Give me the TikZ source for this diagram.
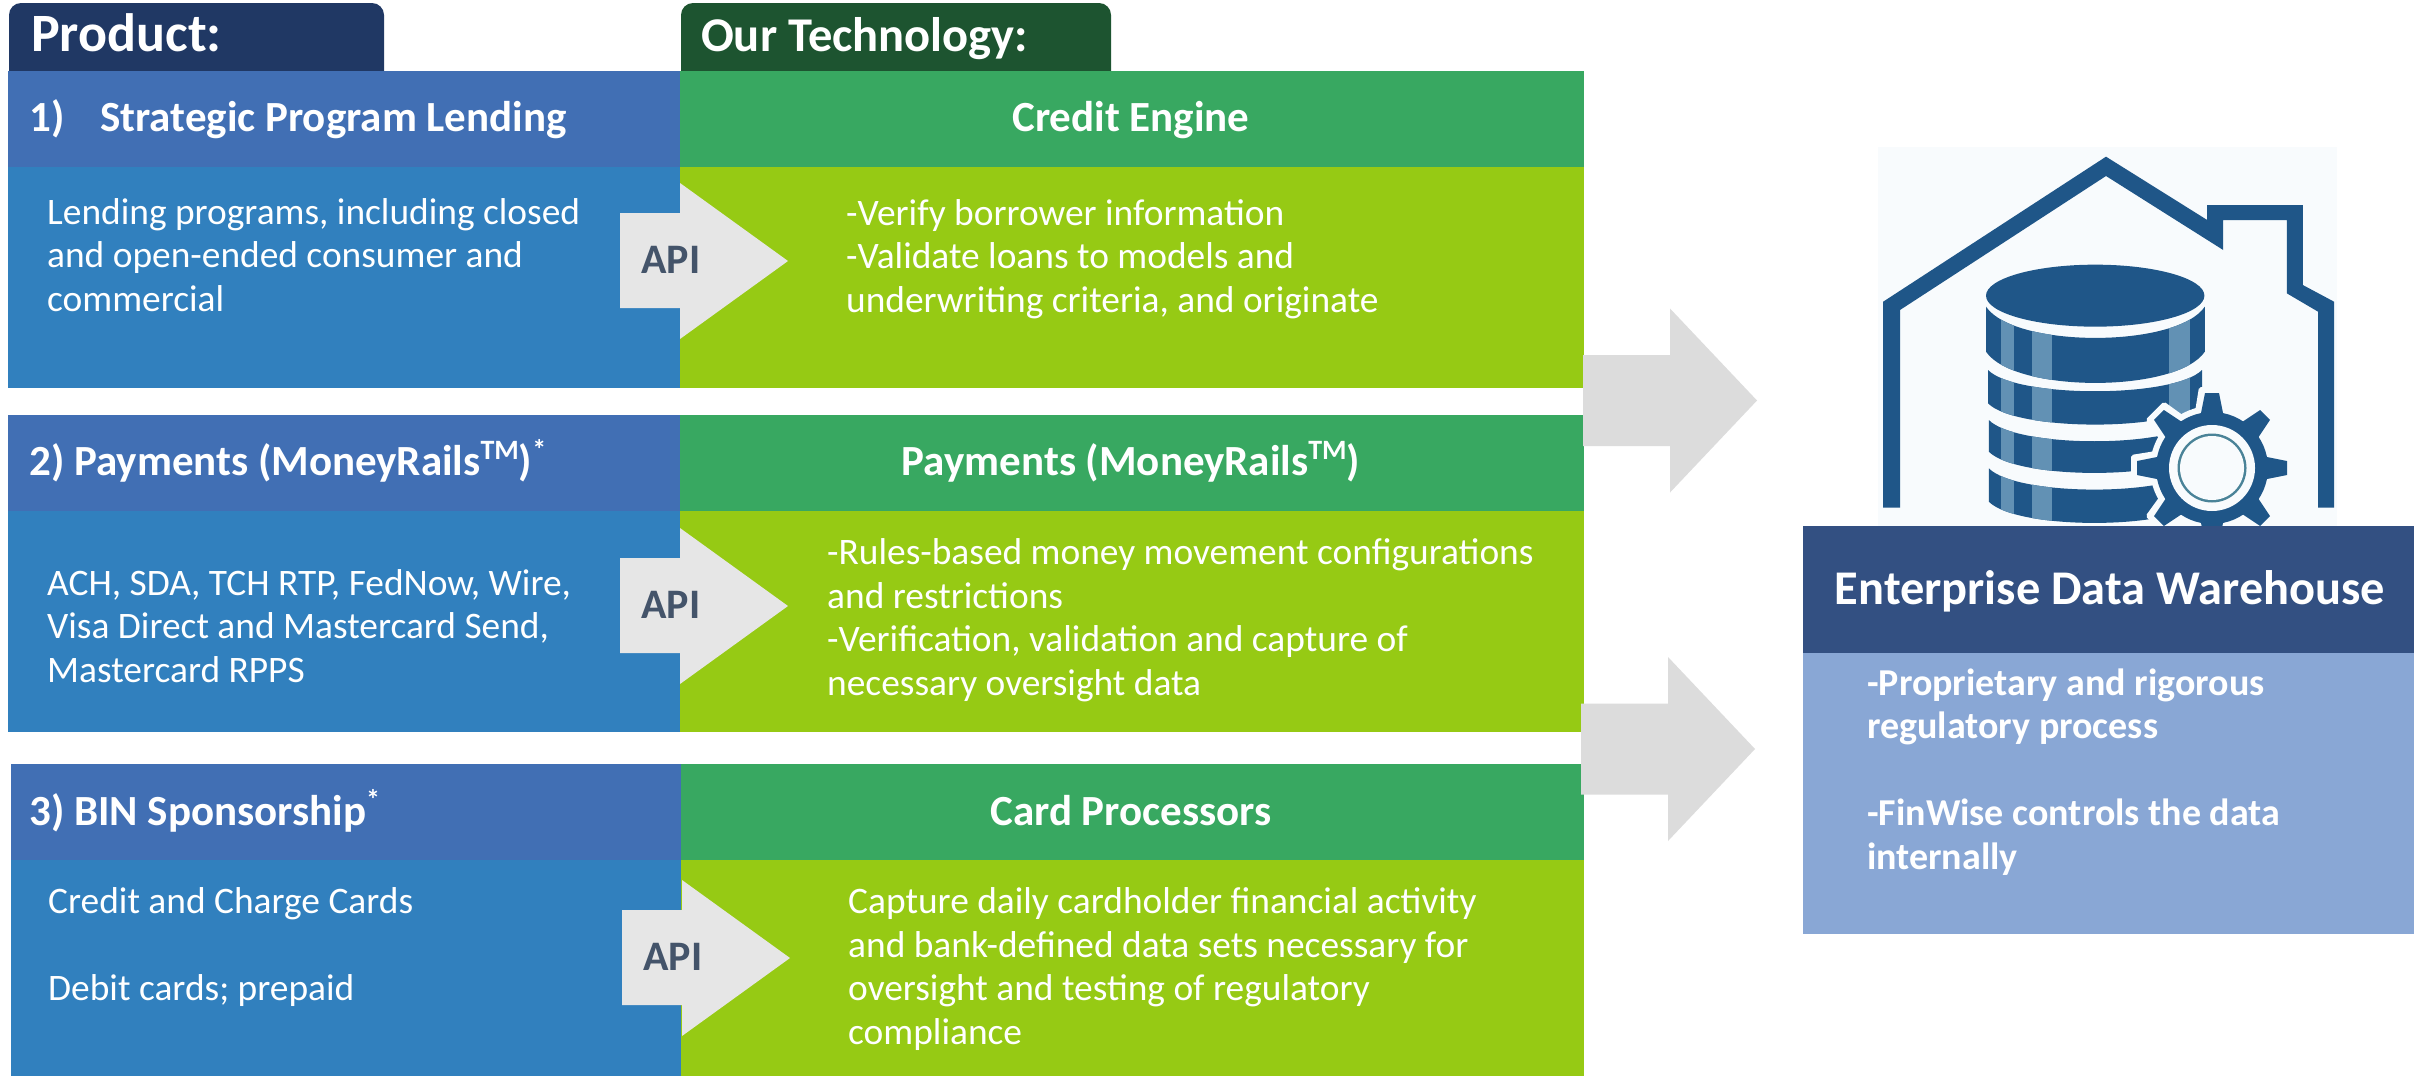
\documentclass[tikz,border=0pt]{standalone}
\usepackage{fontspec}
\setmainfont{Carlito}
\definecolor{tabblue}{HTML}{203864}
\definecolor{tabgreen}{HTML}{1D5430}
\definecolor{headblue}{HTML}{416FB4}
\definecolor{bodyblue}{HTML}{3180BE}
\definecolor{headgreen}{HTML}{38A861}
\definecolor{bodygreen}{HTML}{96CA14}
\definecolor{apigrey}{HTML}{E6E6E6}
\definecolor{biggrey}{HTML}{DCDCDC}
\definecolor{apitext}{HTML}{44546A}
\definecolor{ewhdark}{HTML}{335082}
\definecolor{ewhlight}{HTML}{89A7D5}
\definecolor{iconblue}{HTML}{1F5688}
\definecolor{iconlight}{HTML}{6291B4}
\definecolor{iconteal}{HTML}{4A8398}
\definecolor{iconbg}{HTML}{F8FBFD}
\newcommand{\mysup}[1]{\raisebox{16pt}{\fontsize{28}{28}\selectfont #1}}
\newcommand{\apishape}[2]{\fill[apigrey] (#1+620,#2+213) -- (#1+680,#2+213) -- (#1+680,#2+183) -- (#1+788,#2+261) -- (#1+680,#2+339) -- (#1+680,#2+308) -- (#1+620,#2+308) -- cycle;}
\newcommand{\bigarrow}[2]{\fill[biggrey] (#1,#2-45.5) -- (#1+87,#2-45.5) -- (#1+87,#2-92) -- (#1+174,#2) -- (#1+87,#2+92) -- (#1+87,#2+45.5) -- (#1,#2+45.5) -- cycle;}
\newcommand{\band}[6]{(#1,#2) .. controls (#1+70,#3) and (#4-70,#3) .. (#4,#2) -- (#4,#5) .. controls (#4-70,#6) and (#1+70,#6) .. (#1,#5) -- cycle}
\tikzset{
 x=1pt,y=-1pt,
 tabtext/.style={anchor=base west,text=white,font=\bfseries\fontsize{48.5}{54}\selectfont,inner sep=0pt},
 headtext/.style={anchor=base west,text=white,font=\bfseries\fontsize{43}{46}\selectfont,inner sep=0pt},
 headcenter/.style={anchor=base,text=white,font=\bfseries\fontsize{43}{46}\selectfont,inner sep=0pt},
 bodytext/.style={anchor=base west,align=left,text=white,font=\fontsize{37.4}{43.4}\selectfont,inner sep=0pt},
 ewhtext/.style={anchor=base west,align=left,text=white,font=\bfseries\fontsize{38}{43.4}\selectfont,inner sep=0pt},
 apilabel/.style={anchor=base west,text=apitext,font=\bfseries\fontsize{42}{43}\selectfont,inner sep=0pt},
}
\begin{document}
\begin{tikzpicture}
\useasboundingbox (0,0) rectangle (2425,1076);
\fill[white] (0,0) rectangle (2425,1076);
% tabs
\fill[tabblue,rounded corners=12pt] (9,3) -- (384,3) -- (384,90) -- (9,90) -- cycle;
\fill[tabblue] (9,50) rectangle (384,71);
\fill[tabgreen,rounded corners=12pt] (681,3) -- (1111,3) -- (1111,90) -- (681,90) -- cycle;
\fill[tabgreen] (681,50) rectangle (1111,71);
% row 1
\fill[headblue] (8,71) rectangle (680,167);
\fill[bodyblue] (8,167) rectangle (680,388);
\fill[headgreen] (680,71) rectangle (1584,167);
\fill[bodygreen] (680,167) rectangle (1584,388);
% row 2
\fill[headblue] (8,415) rectangle (680,511);
\fill[bodyblue] (8,511) rectangle (680,732);
\fill[headgreen] (680,415) rectangle (1584,511);
\fill[bodygreen] (680,511) rectangle (1584,732);
% row 3
\fill[headblue] (11,764) rectangle (681,860);
\fill[bodyblue] (11,860) rectangle (681,1076);
\fill[headgreen] (681,764) rectangle (1584,860);
\fill[bodygreen] (681,860) rectangle (1584,1076);
% arrows
\apishape{0}{0}
\apishape{0}{345}
\apishape{2}{697}
\bigarrow{1583}{400.5}
\bigarrow{1581}{749}
% icon
\fill[iconbg] (1878,147) rectangle (2337,526);
\begin{scope}[shift={(1800,130)},x=0.4pt,y=-0.33333pt]
 \fill[iconblue] (208,515) -- (765,80) -- (1018,270) -- (1018,225) -- (1257,225) -- (1257,465) -- (1335,515) -- (1335,1133) -- (1295,1133) -- (1295,545) -- (1217,490) -- (1217,270) -- (1058,270) -- (1058,360) -- (765,138) -- (250,540) -- (250,1133) -- (208,1133) -- cycle;
 \fill[iconblue] (738,497) ellipse [x radius=273,y radius=93];
 \fill[iconblue] \band{465}{530}{655}{1012}{665}{790};
 \fill[iconblue] \band{470}{720}{805}{1005}{820}{905};
 \fill[iconblue] \band{472}{870}{955}{1000}{965}{1050};
 \fill[iconblue] \band{472}{1015}{1100}{1000}{1115}{1200};
 \begin{scope}
  \clip \band{465}{530}{655}{1012}{665}{790} \band{470}{720}{805}{1005}{820}{905} \band{472}{870}{955}{1000}{965}{1050} \band{472}{1015}{1100}{1000}{1115}{1200};
  \fill[iconlight] (503,500) rectangle (535,1200);
  \fill[iconlight] (580,500) rectangle (630,1200);
  \fill[iconlight] (922,500) rectangle (975,1200);
 \end{scope}
\end{scope}
\begin{scope}[shift={(2212,468)}]
 \foreach \a in {0,45,...,315}{
  \fill[iconbg,rotate=\a,rounded corners=2pt] (-13,-81) -- (13,-81) -- (18,-50) -- (-18,-50) -- cycle;
 }
 \fill[iconbg] (0,0) circle (62);
 \foreach \a in {0,45,...,315}{
  \fill[iconblue,rotate=\a] (-7,-75) -- (7,-75) -- (12,-50) -- (-12,-50) -- cycle;
 }
 \fill[iconblue] (0,0) circle (56);
 \fill[iconbg] (0,0) circle (43);
 \fill[iconteal] (0,0) circle (34.5);
 \fill[iconbg] (0,0) circle (32);
\end{scope}
% warehouse
\fill[ewhdark] (1803,526) rectangle (2414,653);
\fill[ewhlight] (1803,653) rectangle (2414,934);
% text
\node[tabtext,font=\bfseries\fontsize{54}{54}\selectfont] (product) at (31,51) {Product:};
\node[tabtext] (tech) at (701,51) {Our Technology:};
\node[headtext] (h1n) at (29,131) {1)};
\node[headtext] (h1) at (100,131) {Strategic Program Lending};
\node[headcenter] (g1) at (1131,131) {Credit Engine};
\node[headtext] (h2) at (29,475) {2) Payments (MoneyRails\mysup{TM})\mysup{*}};
\node[headcenter] (g2) at (1131,475) {Payments (MoneyRails\mysup{TM})};
\node[headtext] (h3) at (29,825) {3) BIN Sponsorship\mysup{*}};
\node[headcenter] (g3) at (1131,825) {Card Processors};
\node[bodytext] (b1) at (47,311) {Lending programs, including closed\\and open-ended consumer and\\commercial};
\node[bodytext] (t1) at (846,312) {-Verify borrower information\\-Validate loans to models and\\underwriting criteria, and originate};
\node[bodytext] (b2) at (47,682) {ACH, SDA, TCH RTP, FedNow, Wire,\\Visa Direct and Mastercard Send,\\Mastercard RPPS};
\node[bodytext] (t2) at (827,695) {-Rules-based money movement configurations\\and restrictions\\-Verification, validation and capture of\\necessary oversight data};
\node[bodytext] (b3) at (48,1000) {Credit and Charge Cards\\[43.4pt]Debit cards; prepaid};
\node[bodytext] (t3) at (848,1044) {Capture daily cardholder financial activity\\and bank-defined data sets necessary for\\oversight and testing of regulatory\\compliance};
\node[apilabel] (a1) at (641,273) {API};
\node[apilabel] (a2) at (641,618) {API};
\node[apilabel] (a3) at (643,970) {API};
\node[anchor=base,text=white,font=\bfseries\fontsize{48.4}{54}\selectfont,inner sep=0pt] (ewh) at (2110,604) {Enterprise Data Warehouse};
\node[ewhtext] (e1) at (1867,869) {-Proprietary and rigorous\\regulatory process\\[43.4pt]-FinWise controls the data\\internally};
\end{tikzpicture}
\end{document}
